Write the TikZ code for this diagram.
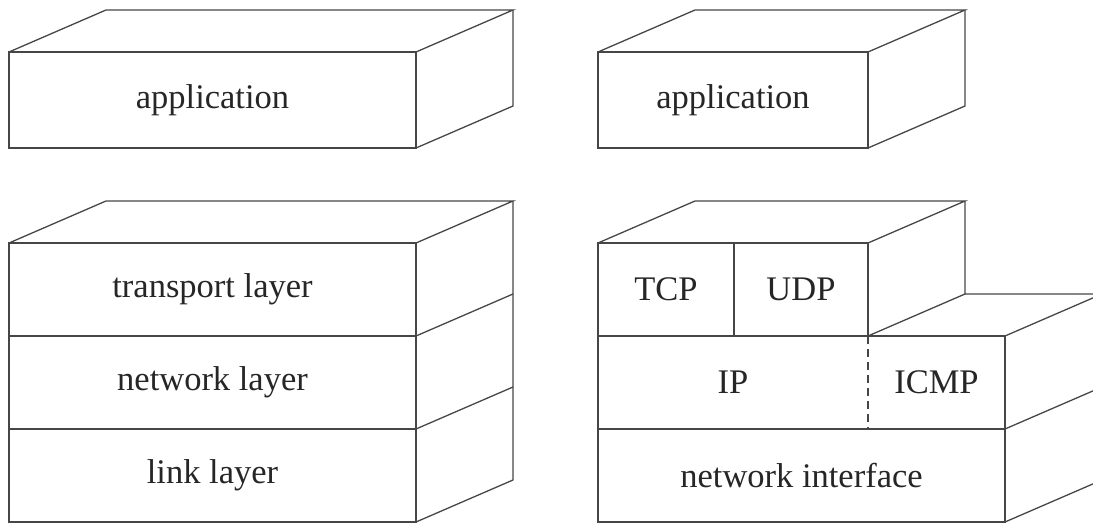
\documentclass[tikz,border=0pt]{standalone}
\usepackage{fontspec}
\setmainfont{Liberation Serif}
\usepackage{tikz}
\usetikzlibrary{positioning,calc}
\definecolor{linegray}{RGB}{70,70,70}

\begin{document}
\begin{tikzpicture}[
    x=1pt, y=-1pt,
    line width=1.3pt, draw=linegray,
    face/.style={rectangle, draw=linegray, minimum width=407, minimum height=93, inner sep=0pt, outer sep=0pt, text=black!85, font=\fontsize{34.5}{40}\selectfont},
    cell/.style={face, draw=none}
]
    \useasboundingbox (0,0) rectangle (1093,524);
    \def\dx{97}
    \def\dy{42}

    % left: application box
    \node[face, minimum height=96, anchor=north west] (appL) at (9,52) {application};
    \draw (appL.north west) -- ++(\dx,-\dy) -- ($(appL.north east)+(\dx,-\dy)$) -- (appL.north east);
    \draw ($(appL.north east)+(\dx,-\dy)$) -- ($(appL.south east)+(\dx,-\dy)$) -- (appL.south east);

    % left: layer stack
    \node[face, anchor=north west] (trans) at (9,243) {transport layer};
    \node[face, below=0pt of trans] (net) {network layer};
    \node[face, below=0pt of net] (link) {link layer};
    \draw (trans.north west) -- ++(\dx,-\dy) -- ($(trans.north east)+(\dx,-\dy)$) -- (trans.north east);
    \draw ($(trans.north east)+(\dx,-\dy)$) -- ($(link.south east)+(\dx,-\dy)$) -- (link.south east);
    \draw (net.north east) -- ++(\dx,-\dy);
    \draw (link.north east) -- ++(\dx,-\dy);

    % right: application box
    \node[face, minimum width=270, minimum height=96, anchor=north west] (appR) at (598,52) {application};
    \draw (appR.north west) -- ++(\dx,-\dy) -- ($(appR.north east)+(\dx,-\dy)$) -- (appR.north east);
    \draw ($(appR.north east)+(\dx,-\dy)$) -- ($(appR.south east)+(\dx,-\dy)$) -- (appR.south east);

    % right: TCP/IP stack
    \node[face, minimum width=136, anchor=north west] (tcp) at (598,243) {TCP};
    \node[face, minimum width=134, right=0pt of tcp] (udp) {UDP};
    \node[cell, minimum width=270, anchor=north west] (ip) at (tcp.south west) {IP};
    \node[cell, minimum width=137, right=0pt of ip] (icmp) {ICMP};
    \node[face, anchor=north west] (netif) at (ip.south west) {network interface};
    \draw (ip.north west) rectangle (icmp.south east);
    \draw[dash pattern=on 8pt off 5pt] (ip.north east) -- (ip.south east);

    % upper block faces
    \draw (tcp.north west) -- ++(\dx,-\dy) -- ($(udp.north east)+(\dx,-\dy)$) -- (udp.north east);
    \draw ($(udp.north east)+(\dx,-\dy)$) -- ($(udp.south east)+(\dx,-\dy)$) -- (udp.south east);
    % lower block faces
    \draw ($(udp.south east)+(\dx,-\dy)$) -- ($(icmp.north east)+(\dx,-\dy)$) -- (icmp.north east);
    \draw ($(icmp.north east)+(\dx,-\dy)$) -- ($(netif.south east)+(\dx,-\dy)$) -- (netif.south east);
    \draw (icmp.south east) -- ++(\dx,-\dy);
\end{tikzpicture}
\end{document}
